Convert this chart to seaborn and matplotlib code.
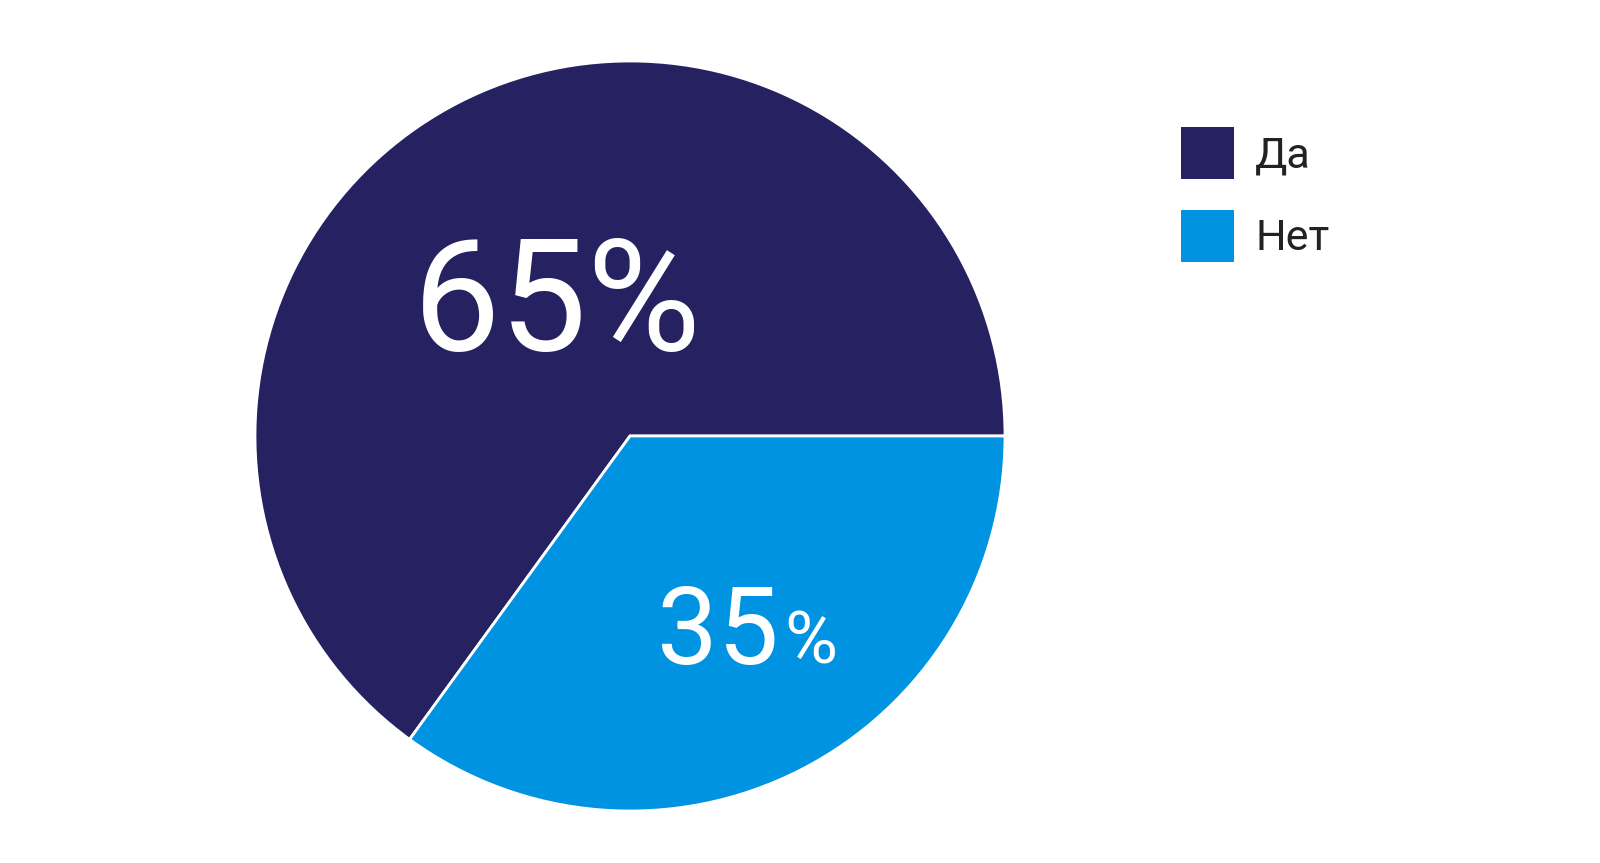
import matplotlib
matplotlib.use("Agg")
import matplotlib.pyplot as plt
from matplotlib.patches import Patch
import seaborn as sns

# data
labels = ["Да", "Нет"]
shares = [65, 35]
colors = ["#262262", "#0093e1"]

sns.set_theme(style="white")
plt.rcParams["font.family"] = ["Roboto", "DejaVu Sans"]

fig = plt.figure(figsize=(16, 8.63), dpi=100)
W, H = 1600, 863
cx, cy, r = 630, 436, 375
ax = fig.add_axes([(cx - r) / W, (H - cy - r) / H, 2 * r / W, 2 * r / H])

wedges, _ = ax.pie(shares, colors=colors, startangle=0, counterclock=True,
                   wedgeprops=dict(edgecolor="white", linewidth=2))
ax.set_xlim(-1, 1)
ax.set_ylim(-1, 1)
ax.set_aspect("equal")
ax.axis("off")

# big label in the dark slice
ax.text(-0.195, 0.23, f"{shares[0]}%", color="white", fontsize=112,
        ha="center", va="baseline")
# number and smaller percent sign in the blue slice, shared baseline
ax.text(0.398, -0.607, f"{shares[1]}", color="white", fontsize=78,
        ha="right", va="baseline")
ax.text(0.41, -0.607, "%", color="white", fontsize=52,
        ha="left", va="baseline")

handles = [Patch(facecolor=c, edgecolor="none") for c in colors]
fig.legend(handles, labels, loc="upper left",
           bbox_to_anchor=(1181 / W, 1 - 127 / H), frameon=False,
           fontsize=31, handlelength=1.22, handleheight=1.49,
           handletextpad=0.5, labelspacing=0.71, borderpad=0,
           borderaxespad=0, labelcolor="#222222")

fig.savefig("out.png", dpi=100, facecolor="white")
